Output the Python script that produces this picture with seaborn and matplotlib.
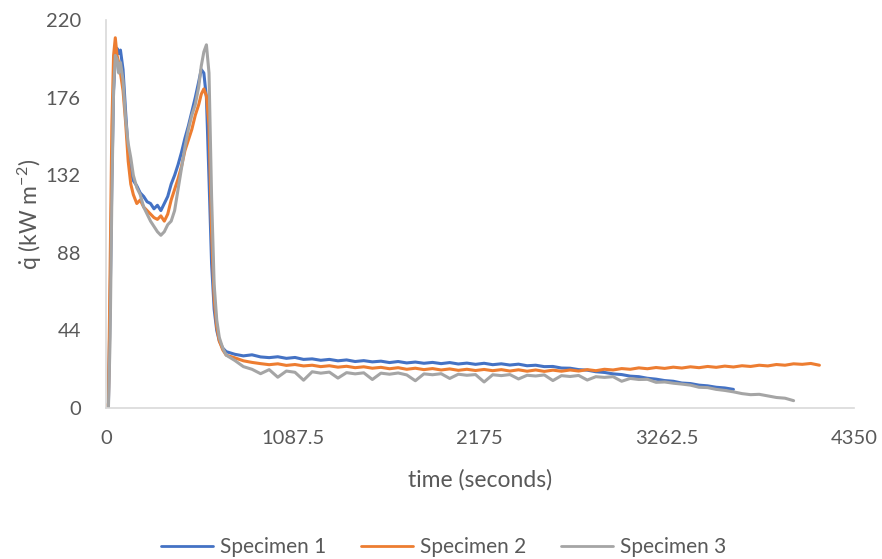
import pandas as pd
import matplotlib
matplotlib.use('Agg')
import matplotlib.pyplot as plt
import seaborn as sns

# heat release rate, three specimens

# start of the test (shared time grid, seconds)
head_t = [0, 15, 25, 35, 45, 55, 65, 75, 85, 100, 115, 130, 145, 160, 180, 200, 220,
          240, 260, 280, 300, 320, 340, 360, 380, 400, 420, 440, 460, 480, 500, 520,
          540, 555, 570, 585, 600, 615, 630, 645, 660, 680, 700]

spec1_head = [0, 2, 60, 130, 180, 198, 204, 201, 203, 192, 168, 146, 134, 129, 126, 122, 120,
              117, 116, 113, 115, 112, 116, 120, 127, 132, 138, 145, 153, 160, 168, 176,
              185, 192, 190, 176, 130, 82, 56, 44, 38, 34, 32]
spec2_head = [0, 3, 80, 160, 200, 210, 200, 196, 190, 180, 162, 140, 127, 121, 116, 118, 114,
              112, 110, 108, 107, 109, 106, 110, 118, 124, 130, 137, 146, 152, 158, 166,
              172, 178, 181, 177, 160, 100, 62, 46, 38, 33, 30]
spec3_head = [0, 0, 40, 120, 180, 200, 198, 190, 196, 186, 164, 150, 142, 132, 125, 121, 114,
              110, 106, 103, 100, 98, 100, 104, 106, 112, 124, 136, 148, 158, 166, 172,
              182, 194, 202, 206, 190, 120, 70, 50, 40, 34, 30]

# long tail (shared time grid, each specimen stops at its own end)
tail_t = [750, 800, 850, 900, 950, 1000, 1050, 1100, 1150, 1200, 1250, 1300, 1350, 1400,
          1450, 1500, 1550, 1600, 1650, 1700, 1750, 1800, 1850, 1900, 1950, 2000, 2050,
          2100, 2150, 2200, 2250, 2300, 2350, 2400, 2450, 2500, 2550, 2600, 2650, 2700,
          2750, 2800, 2850, 2900, 2950, 3000, 3050, 3100, 3150, 3200, 3250, 3300, 3350,
          3400, 3450, 3500, 3550, 3600, 3650, 3700, 3750, 3800, 3850, 3900, 3950, 4000,
          4050, 4100, 4150]

spec1_tail = [30.5, 29.6, 30.2, 29.0, 28.6, 29.1, 28.2, 28.7, 27.6, 27.9,
              27.1, 27.6, 26.8, 27.3, 26.4, 26.9, 26.2, 26.6, 25.8, 26.4,
              25.6, 26.1, 25.4, 25.9, 25.2, 25.8, 25.0, 25.5, 24.8, 25.4,
              24.6, 25.1, 24.4, 24.9, 24.0, 24.3, 23.5, 23.6, 22.7, 22.6,
              21.8, 21.5, 20.6, 20.2, 19.4, 19.0, 18.1, 17.8, 16.9, 16.4,
              15.6, 15.2, 14.2, 13.9, 13.0, 12.6, 11.8, 11.4, 10.6]
spec2_tail = [28.5, 26.8, 25.9, 25.2, 24.6, 25.1, 24.2, 24.7, 23.9, 24.3,
              23.5, 24.0, 23.2, 23.7, 22.9, 23.4, 22.6, 23.1, 22.3, 22.9,
              22.0, 22.6, 21.8, 22.4, 21.6, 22.2, 21.4, 22.0, 21.3, 21.9,
              21.2, 21.8, 21.0, 21.7, 20.9, 21.6, 20.8, 21.5, 20.9, 21.6,
              21.0, 21.8, 21.2, 22.0, 21.6, 22.4, 22.0, 22.8, 22.3, 23.0,
              22.5, 23.2, 22.7, 23.4, 22.9, 23.6, 23.1, 23.8, 23.3, 24.0,
              23.6, 24.3, 23.9, 24.7, 24.3, 25.1, 24.8, 25.3, 24.3]
spec3_tail = [27.0, 23.5, 22.0, 19.5, 21.8, 17.5, 21.0, 20.3, 15.8, 20.6,
              19.8, 20.4, 17.0, 20.1, 19.4, 20.0, 16.2, 19.8, 19.2, 19.9,
              18.8, 15.5, 19.4, 18.9, 19.5, 16.8, 19.2, 18.6, 19.0, 14.8,
              18.9, 18.4, 19.0, 16.5, 18.6, 18.2, 18.8, 15.6, 18.4, 17.9,
              18.5, 15.9, 17.8, 17.4, 17.8, 15.2, 16.8, 16.2, 16.3, 14.6,
              14.8, 14.1, 13.6, 13.0, 11.8, 11.6, 10.6, 10.0, 9.2, 8.2,
              7.6, 7.8, 6.9, 6.0, 5.6, 4.2]

names = ['Specimen 1', 'Specimen 2', 'Specimen 3']
colors = ['#4472C4', '#ED7D31', '#A5A5A5']

x_ticks = [0, 1087.5, 2175, 3262.5, 4350]
x_labels = ['0', '1087.5', '2175', '3262.5', '4350']
y_ticks = [0, 44, 88, 132, 176, 220]

rows = []
for name, head, tail in zip(names, [spec1_head, spec2_head, spec3_head],
                            [spec1_tail, spec2_tail, spec3_tail]):
    for t, q in zip(head_t + tail_t, head + tail):
        rows.append((name, t, q))
df = pd.DataFrame(rows, columns=['specimen', 'time', 'q'])

sns.set_style('white')
plt.rcParams['font.family'] = ['Lato', 'DejaVu Sans']
plt.rcParams['mathtext.fontset'] = 'custom'
plt.rcParams['mathtext.rm'] = 'Lato'
plt.rcParams['mathtext.it'] = 'Lato:italic'

grey = '#595959'
fig = plt.figure(figsize=(8.82, 5.59), dpi=100)
ax = fig.add_axes([0.120, 0.270, 0.848, 0.694])

sns.lineplot(data=df, x='time', y='q', hue='specimen', hue_order=names,
             palette=colors, sort=False, estimator=None, linewidth=2.2, ax=ax, legend=False)

ax.set_xlim(0, 4350)
ax.set_ylim(0, 220)
ax.set_xticks(x_ticks)
ax.set_xticklabels(x_labels)
ax.set_xticks([543.75, 1631.25, 2718.75, 3806.25], minor=True)
ax.set_yticks(y_ticks)
ax.set_yticks([22, 66, 110, 154, 198], minor=True)
ax.tick_params(which='both', direction='in', length=5, color='#d9d9d9', width=1)
ax.tick_params(axis='x', which='major', labelsize=14.5, labelcolor=grey, pad=16)
ax.tick_params(axis='y', which='major', labelsize=14.5, labelcolor=grey, pad=18)

for s in ['top', 'right']:
    ax.spines[s].set_visible(False)
for s in ['left', 'bottom']:
    ax.spines[s].set_color('#d9d9d9')
    ax.spines[s].set_linewidth(1.2)

ax.set_xlabel('time (seconds)', fontsize=16.5, color=grey, labelpad=16)
ax.set_ylabel(r'$\dot{\mathrm{q}}$ (kW m$^{-2}$)', fontsize=16.5, color=grey, labelpad=1)

handles = [plt.Line2D([], [], color=c, lw=2) for c in colors]
fig.legend(handles, names, loc='center', bbox_to_anchor=(0.503, 0.021), ncol=3,
           frameon=False, fontsize=15, labelcolor=grey, handlelength=2.5,
           handletextpad=0.3, columnspacing=1.7)

fig.savefig('out.png', dpi=100)
